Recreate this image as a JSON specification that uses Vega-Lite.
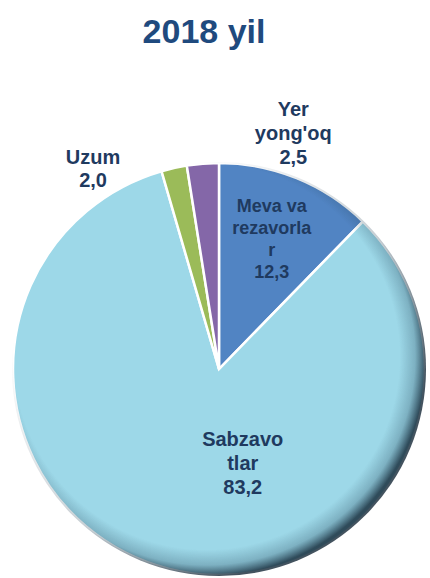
{
  "$schema": "https://vega.github.io/schema/vega-lite/v6.json",
  "width": 422,
  "height": 412,
  "autosize": {"type": "none"},
  "padding": {"left": 8, "top": 163, "right": 0, "bottom": 3},
  "background": "white",
  "title": {
    "text": "2018 yil",
    "font": "Liberation Sans",
    "fontSize": 34,
    "fontWeight": "bold",
    "color": "#1F4A7E",
    "frame": "group",
    "offset": 50,
    "dx": -15
  },
  "data": {
    "values": [
      {"name": "Meva va rezavorlar", "lab": "Meva va\nrezavorla\nr", "value": 12.3, "ord": 1},
      {"name": "Sabzavotlar", "lab": "Sabzavo\ntlar", "value": 83.2, "ord": 2},
      {"name": "Uzum", "lab": "Uzum", "value": 2.0, "ord": 3},
      {"name": "Yer yong'oq", "lab": "Yer\nyong'oq", "value": 2.5, "ord": 4}
    ]
  },
  "transform": [
    {"calculate": "datum.lab + '\\n' + replace(format(datum.value, '.1f'), '.', ',')", "as": "label"}
  ],
  "layer": [
    {
      "mark": {"type": "arc", "outerRadius": 206, "stroke": "white", "strokeWidth": 2.5},
      "encoding": {
        "theta": {"field": "value", "type": "quantitative", "stack": true, "scale": {"domain": [0, 100]}},
        "order": {"field": "ord", "type": "quantitative"},
        "color": {
          "field": "name",
          "type": "nominal",
          "legend": null,
          "scale": {
            "domain": ["Meva va rezavorlar", "Sabzavotlar", "Uzum", "Yer yong'oq"],
            "range": ["#5184C3", "#9DD8E8", "#9BBB59", "#8467A8"]
          }
        }
      }
    },
    {
      "transform": [{"aggregate": [{"op": "sum", "field": "value", "as": "total"}]}],
      "mark": {
        "type": "arc",
        "outerRadius": 207,
        "fill": {
          "gradient": "radial",
          "x1": 0.47, "y1": 0.47, "r1": 0,
          "x2": 0.47, "y2": 0.47, "r2": 0.53,
          "stops": [
            {"offset": 0, "color": "rgba(30,60,80,0)"},
            {"offset": 0.88, "color": "rgba(30,60,80,0)"},
            {"offset": 0.95, "color": "rgba(30,60,80,0.25)"},
            {"offset": 1, "color": "rgba(20,40,55,0.8)"}
          ]
        }
      },
      "encoding": {
        "theta": {"field": "total", "type": "quantitative", "stack": true}
      }
    },
    {
      "mark": {"type": "text", "radius": 140, "dy": -32, "font": "Liberation Sans", "fontSize": 18, "fontWeight": "bold", "lineBreak": "\n", "lineHeight": 22, "color": "#1F3A5F", "align": "center", "baseline": "middle"},
      "encoding": {
        "theta": {"field": "value", "type": "quantitative", "stack": true},
        "order": {"field": "ord", "type": "quantitative"},
        "text": {"condition": {"test": "datum.ord == 1", "field": "label"}, "value": ""}
      }
    },
    {
      "mark": {"type": "text", "radius": 100, "dx": 48, "dy": -26, "font": "Liberation Sans", "fontSize": 20, "fontWeight": "bold", "lineBreak": "\n", "lineHeight": 24, "color": "#1F3A5F", "align": "center", "baseline": "middle"},
      "encoding": {
        "theta": {"field": "value", "type": "quantitative", "stack": true},
        "order": {"field": "ord", "type": "quantitative"},
        "text": {"condition": {"test": "datum.ord == 2", "field": "label"}, "value": ""}
      }
    },
    {
      "mark": {"type": "text", "radius": 206, "dx": -81, "dy": -10, "font": "Liberation Sans", "fontSize": 20, "fontWeight": "bold", "lineBreak": "\n", "lineHeight": 23, "color": "#1F3A5F", "align": "center", "baseline": "middle"},
      "encoding": {
        "theta": {"field": "value", "type": "quantitative", "stack": true},
        "order": {"field": "ord", "type": "quantitative"},
        "text": {"condition": {"test": "datum.ord == 3", "field": "label"}, "value": ""}
      }
    },
    {
      "mark": {"type": "text", "radius": 238, "dx": 93, "dy": -22, "font": "Liberation Sans", "fontSize": 20, "fontWeight": "bold", "lineBreak": "\n", "lineHeight": 24, "color": "#1F3A5F", "align": "center", "baseline": "middle"},
      "encoding": {
        "theta": {"field": "value", "type": "quantitative", "stack": true},
        "order": {"field": "ord", "type": "quantitative"},
        "text": {"condition": {"test": "datum.ord == 4", "field": "label"}, "value": ""}
      }
    }
  ],
  "config": {"view": {"stroke": null}}
}
